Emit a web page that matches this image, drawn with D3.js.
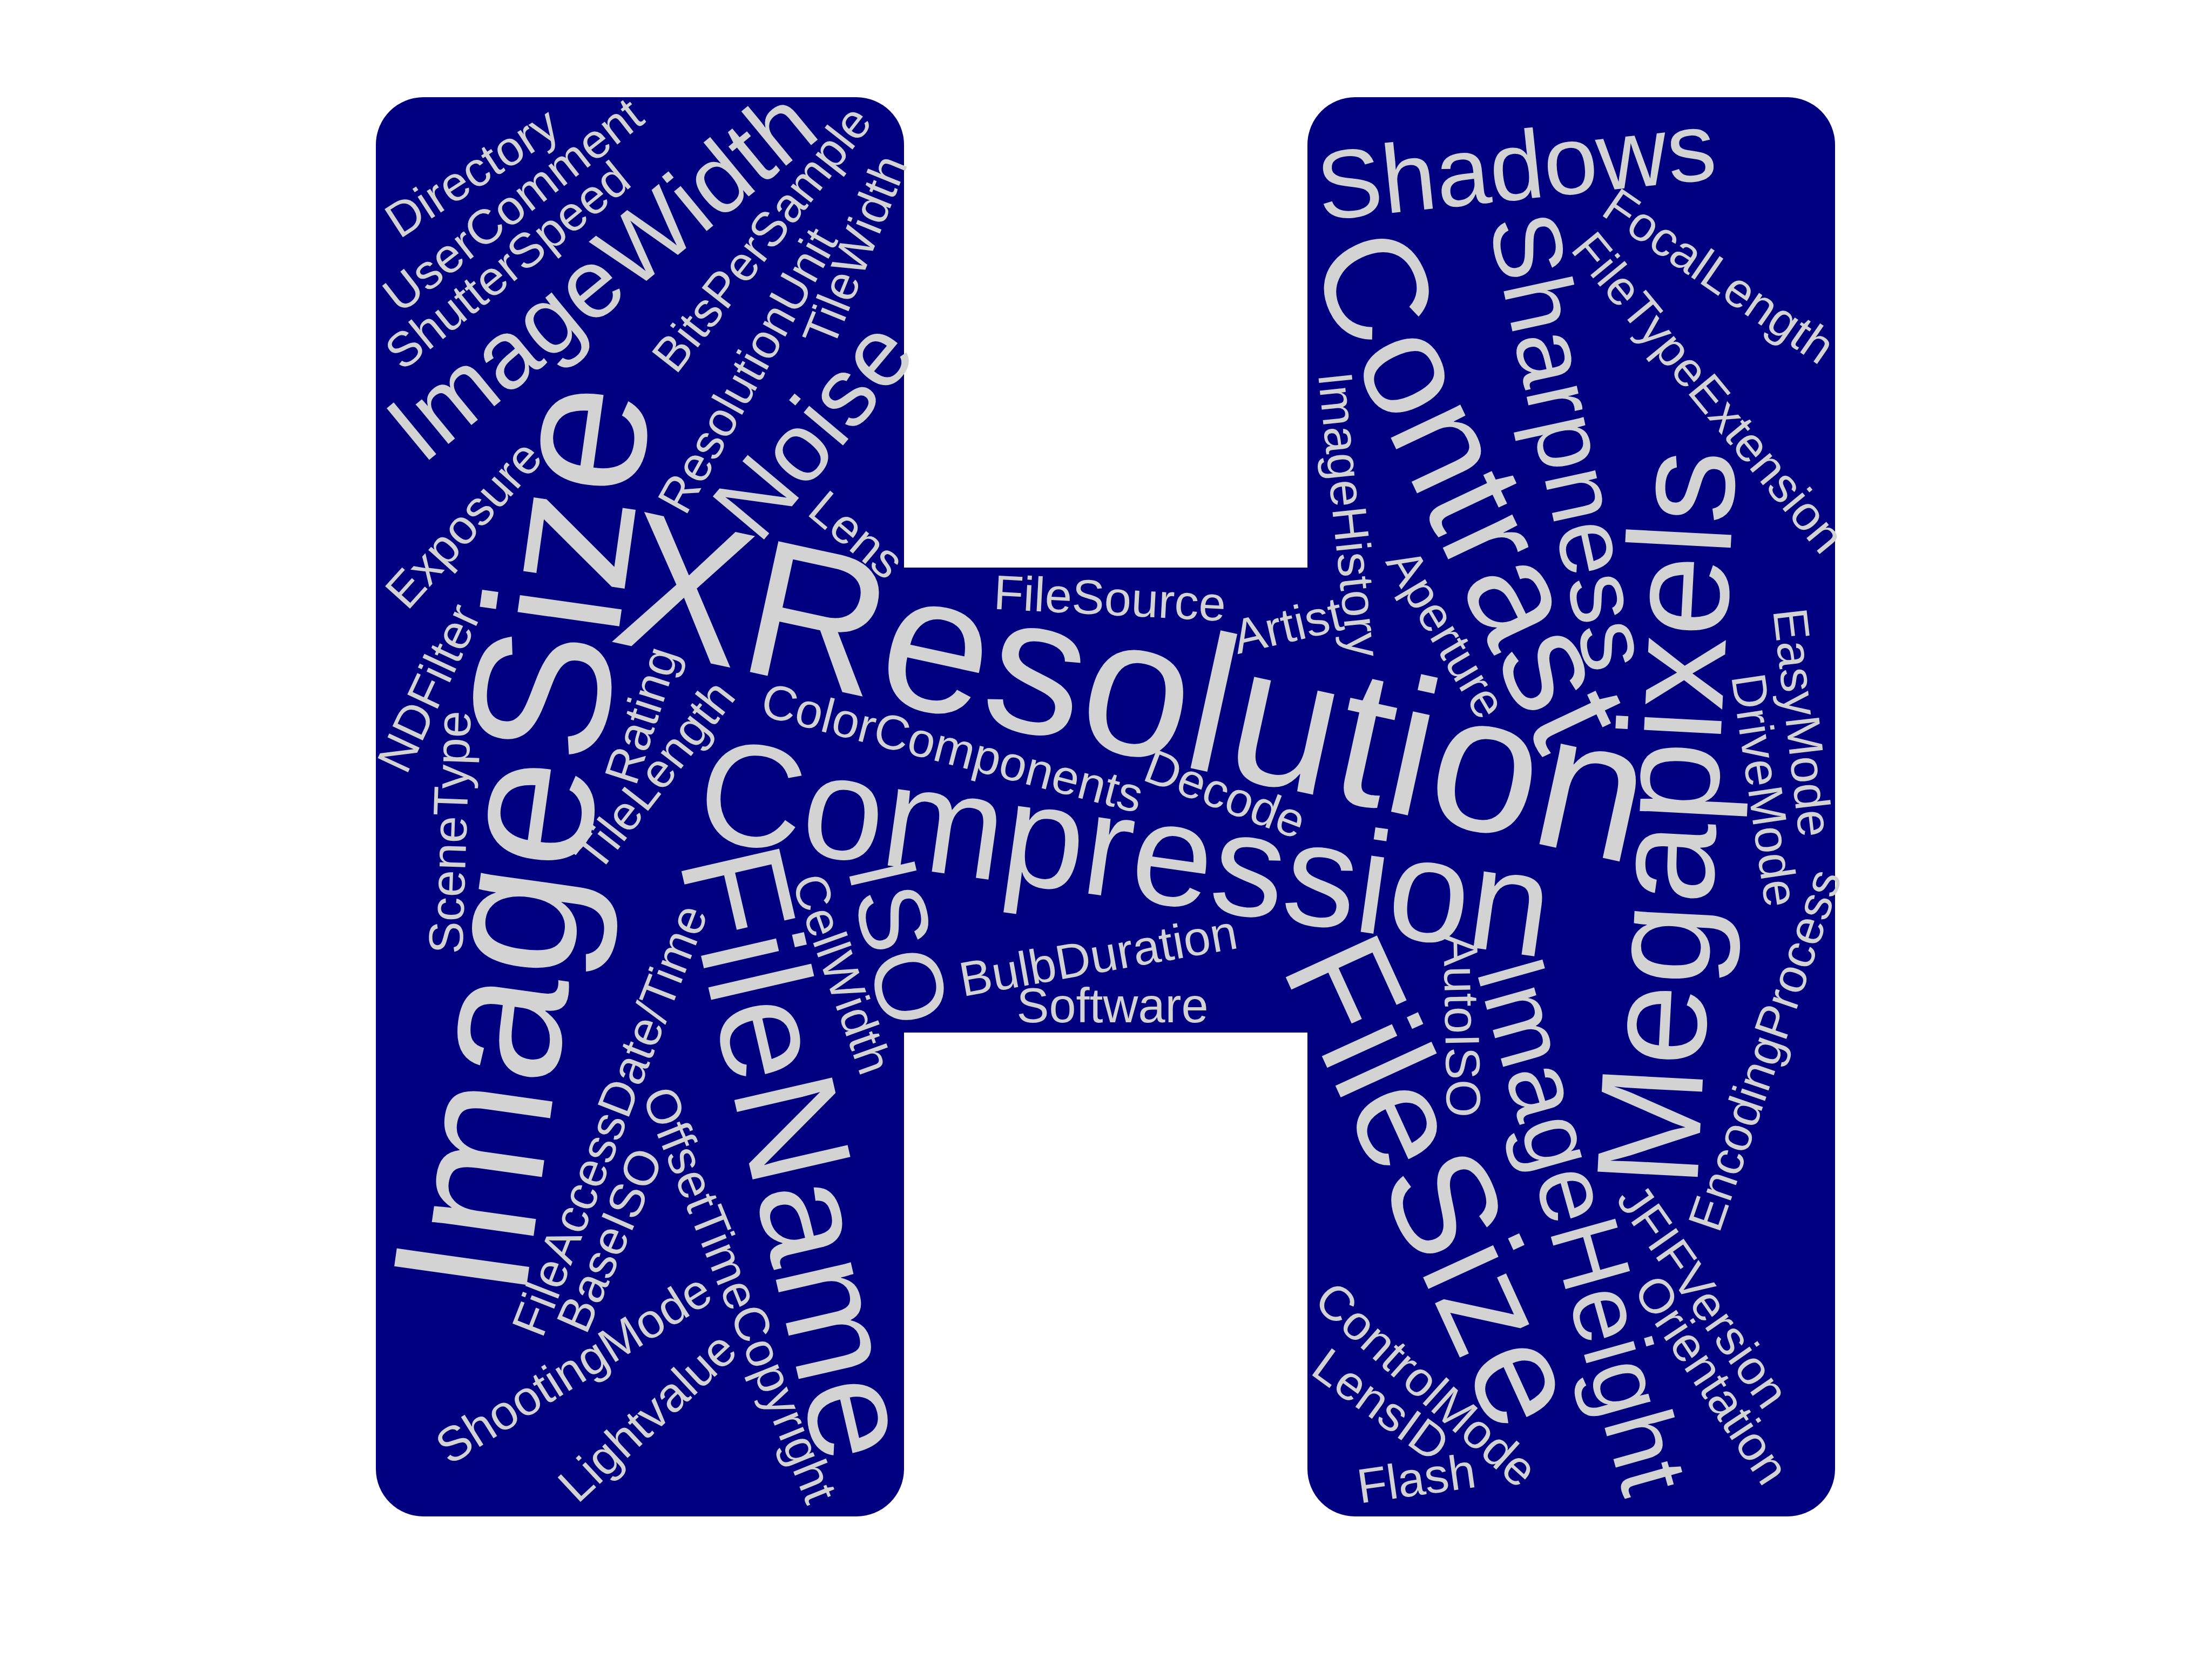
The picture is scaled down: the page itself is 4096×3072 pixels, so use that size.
<!DOCTYPE html>
<html>
<head>
<meta charset="utf-8">
<script src="https://cdn.jsdelivr.net/npm/d3@7"></script>
<style>
  body { margin: 0; background: #ffffff; }
  svg { display: block; }
  text { font-family: "Liberation Sans", Arial, sans-serif; fill: #d3d3d3; }
</style>
</head>
<body>
<svg id="chart"></svg>
<script>
// word list, weight (frequency level) and where the cloud put each word
const words = ["Directory", "UserComment", "ShutterSpeed", "ImageWidth", "BitsPerSample",
  "ResolutionUnit", "TileWidth", "Noise", "Lens", "Exposure",
  "ImageSize", "XResolution", "Compression", "FileName", "NDFilter",
  "SceneType", "Rating", "TileLength", "ColorComponents", "FileSource",
  "Artist", "ImageHistory", "Aperture", "Decode", "ISO",
  "CellWidth", "BulbDuration", "Software", "FileAccessDate/Time", "BaseISO",
  "OffsetTimeCopyright", "ShootingMode", "Lightvalue", "Shadows", "Contrast",
  "Sharpness", "FocalLength", "FileTypeExtension", "Megapixels", "EasyMode",
  "DriveMode", "EncodingProcess", "FileSize", "AutoISO", "ImageHeight",
  "JFIFVersion", "Orientation", "ControlMode", "LensID", "Flash"];
const weights = [1, 1, 1, 2, 1,
  1, 1, 2, 1, 1,
  4, 4, 3, 3, 1,
  1, 1, 1, 1, 1,
  1, 1, 1, 1, 2,
  1, 1, 1, 1, 1,
  1, 1, 1, 2, 3,
  2, 1, 1, 3, 1,
  1, 1, 3, 1, 2,
  1, 1, 1, 1, 1];
const posX = [875, 951, 941, 1116, 1412,
  1386, 1585, 1509, 1585, 860,
  975, 2098, 2083, 1471, 796,
  835, 1190, 1214, 1763, 2055,
  2385, 2497, 2677, 2268, 1660,
  1557, 2034, 2060, 1131, 1131,
  1368, 1063, 1200, 2808, 2716,
  2904, 3182, 3162, 3092, 3336,
  3266, 3270, 2650, 2705, 2926,
  3152, 3168, 2640, 2556, 2623];
const posY = [321, 381, 493, 512, 443,
  687, 465, 797, 992, 972,
  1554, 1281, 1577, 2135, 1275,
  1541, 1325, 1437, 1387, 1110,
  1160, 953, 1174, 1472, 1745,
  1804, 1772, 1864, 2075, 2297,
  2398, 2536, 2625, 312, 906,
  818, 513, 728, 1515, 1338,
  1463, 1945, 2190, 1899, 2270,
  2401, 2556, 2565, 2603, 2740];
const angles = [-33, -38, -39, -39.5, -52,
  -61, -68, -50, 40, -48,
  -82, 12.3, 8, 77, -65,
  -88, -72, -52, 14.5, 3,
  -13, 84, 59.5, 21, 77,
  70.4, -10, 0, -68.7, -66.4,
  68, -32, -43, -6, 64.7,
  77.7, 34.6, 50.6, -87, 83.4,
  81.6, -71, 65.4, 89, 74.3,
  55, 56.5, 42, 36, -8];

const W = 4096, H = 3072;
const svg = d3.select("#chart").attr("width", W).attr("height", H);

const x = d3.scaleLinear().domain([0, 4096]).range([0, W]);
const y = d3.scaleLinear().domain([0, 3072]).range([0, H]);
const size = d3.scaleLinear().domain([0, 1]).range([0, 90]);

// the H shaped mask
const bars = [
  {x0: 696, x1: 1674, y0: 180, y1: 2808, r: 88},
  {x0: 2421, x1: 3398, y0: 180, y1: 2808, r: 88},
  {x0: 1660, x1: 2435, y0: 1051, y1: 1912, r: 0}
];
svg.append("g").selectAll("rect").data(bars).join("rect")
  .attr("x", d => x(d.x0)).attr("y", d => y(d.y0))
  .attr("width", d => x(d.x1) - x(d.x0)).attr("height", d => y(d.y1) - y(d.y0))
  .attr("rx", d => d.r).attr("ry", d => d.r)
  .attr("fill", "#000080");

const data = words.map((w, i) => ({text: w, w: weights[i], cx: posX[i], cy: posY[i], a: angles[i]}));

svg.append("g").selectAll("text").data(data).join("text")
  .attr("transform", d => `translate(${x(d.cx)},${y(d.cy)}) rotate(${d.a})`)
  .attr("text-anchor", "middle")
  .attr("dy", "0.32em")
  .attr("font-size", d => size(d.w))
  .text(d => d.text);
</script>
</body>
</html>
